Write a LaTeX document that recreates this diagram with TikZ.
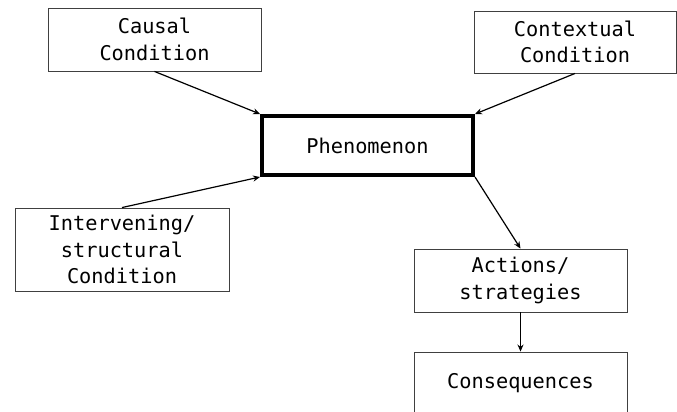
\documentclass[tikz,border=0pt]{standalone}
\usepackage{fontspec}
\setmainfont{DejaVu Sans Mono}
\usetikzlibrary{arrows.meta}
\tikzset{
  box/.style={draw=black!75, line width=0.9pt, fill=white, inner sep=0pt,
    align=center, font=\fontsize{20.3}{26.5}\selectfont,
    minimum width=213pt, minimum height=63pt},
  corebox/.style={box, draw=black, line width=4pt,
    minimum width=211pt, minimum height=59pt},
  link/.style={line width=1.2pt, -{Stealth[length=7pt,width=6pt]}}
}
\begin{document}
\begin{tikzpicture}[x=1pt,y=-1pt]
  \useasboundingbox (0,0) rectangle (677,412);
  \clip (0,0) rectangle (677,412);
  \fill[white] (0,0) rectangle (677,412);

  \node[box] (causal) at (154.5,39.5) {Causal\\Condition};
  \node[box, minimum width=202pt, minimum height=62pt] (context) at (575,42) {Contextual\\Condition};
  \node[corebox] (phen) at (367.5,145.5) {Phenomenon};
  \node[box, minimum width=214pt, minimum height=83pt] (interv) at (122,249.5) {Intervening/\\structural\\Condition};
  \node[box] (action) at (520.5,280.5) {Actions/\\strategies};
  \node[box] (conseq) at (520.5,383.5) {Consequences};

  \draw[link] (causal.south) -- (phen.north west);
  \draw[link] (context.south) -- (phen.north east);
  \draw[link] (interv.north) -- (phen.south west);
  \draw[link] (phen.south east) -- (action.north);
  \draw[link] (action.south) -- (conseq.north);
\end{tikzpicture}
\end{document}
